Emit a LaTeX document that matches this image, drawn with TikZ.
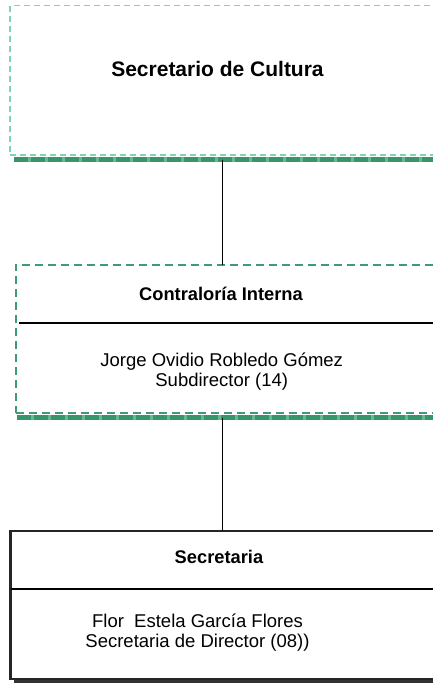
\documentclass[tikz,border=0pt]{standalone}
\usepackage{fontspec}
\setmainfont{Liberation Sans}
\definecolor{lightgrn}{HTML}{7ED6B0}
\definecolor{midgrn}{HTML}{3F9C72}
\definecolor{shadgrn}{HTML}{36956A}
\definecolor{shadlight}{HTML}{6AB892}
\begin{document}
\begin{tikzpicture}[x=1pt,y=-1pt,
  txt/.style={inner sep=0pt,anchor=base},
  titlefont/.style={font=\fontsize{21}{25}\selectfont\bfseries},
  headfont/.style={font=\fontsize{18.3}{22}\selectfont\bfseries},
  bodyfont/.style={font=\fontsize{18.5}{22}\selectfont},
  boxshape/.style={rectangle,inner sep=0pt,outer sep=0pt,anchor=north west},
  box1style/.style={boxshape,draw=lightgrn,line width=1.3pt,dash pattern=on 6pt off 4pt},
  box2style/.style={boxshape,draw=midgrn,line width=2pt,dash pattern=on 8pt off 5pt},
  box3style/.style={boxshape,draw=black!85,line width=2.2pt},
  shadowbase/.style={draw=shadlight,line width=4.5pt},
  shadowtop/.style={draw=shadgrn,line width=4.5pt,dash pattern=on 14pt off 3pt},
  blackshadow/.style={draw=black!80,line width=2.5pt},
  divider/.style={draw=black,line width=1.2pt},
  connector/.style={draw=black,line width=1pt}
]
\useasboundingbox (0,0) rectangle (433,683);
\fill[white] (0,0) rectangle (433,683);

% Box 1
\node[box1style,minimum width=440pt,minimum height=149.5pt] (box1) at (10,5.5) {};
\coordinate (s1a) at (14,159.5);
\coordinate (s1b) at (450,159.5);
\draw[shadowbase] (s1a) -- (s1b);
\draw[shadowtop] (s1a) -- (s1b);
\node[txt,titlefont] (title) at (217.5,76) {Secretario de Cultura};

% Box 2
\node[box2style,minimum width=440pt,minimum height=148.5pt] (box2) at (15.5,264.5) {};
\coordinate (s2a) at (17,417.5);
\coordinate (s2b) at (450,417.5);
\draw[shadowbase] (s2a) -- (s2b);
\draw[shadowtop] (s2a) -- (s2b);
\coordinate (d2a) at (19,323);
\coordinate (d2b) at (450,323);
\draw[divider] (d2a) -- (d2b);
\node[txt,headfont] (contra) at (221,300) {Contraloría Interna};
\node[txt,bodyfont] (jorge) at (221.7,366) {Jorge Ovidio Robledo Gómez};
\node[txt,bodyfont] (subdir) at (221.7,386.5) {Subdirector (14)};

% Box 3
\node[box3style,minimum width=440pt,minimum height=148pt] (box3) at (10.5,531) {};
\coordinate (s3a) at (14,681.5);
\coordinate (s3b) at (450,681.5);
\draw[blackshadow] (s3a) -- (s3b);
\coordinate (d3a) at (11,589);
\coordinate (d3b) at (450,589);
\draw[divider] (d3a) -- (d3b);
\node[txt,headfont] (secr) at (219,563) {Secretaria};
\node[txt,bodyfont] (flor) at (197.5,627) {Flor\ \ Estela García Flores};
\node[txt,bodyfont] (secdir) at (197.5,647.5) {Secretaria de Director (08))};

% Connectors
\coordinate (cx) at (222,0);
\draw[connector] (cx |- s1a) -- (cx |- box2.north);
\draw[connector] (cx |- s2a) -- (cx |- box3.north);
\end{tikzpicture}
\end{document}
